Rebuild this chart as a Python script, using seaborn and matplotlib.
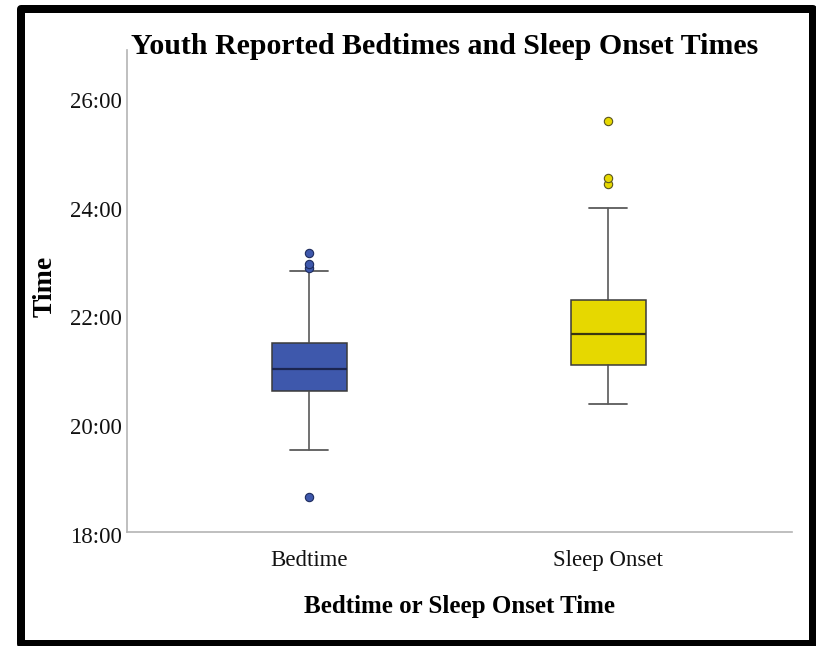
import matplotlib
matplotlib.use("Agg")
import matplotlib.pyplot as plt
import matplotlib.transforms as mtransforms
from matplotlib.patches import Rectangle
from matplotlib.ticker import FixedLocator, FuncFormatter
import seaborn as sns

# Summary statistics of the reported clock times (hours, 24+ = after midnight)
categories = ["Bedtime", "Sleep Onset"]
whisker_low = [19.50, 20.35]
q1 = [20.60, 21.07]
median = [21.00, 21.64]
q3 = [21.47, 22.26]
whisker_high = [22.80, 23.95]
outliers = [[18.64, 22.86, 22.92, 23.13], [24.40, 24.50, 25.56]]
y_ticks = [18, 20, 22, 24, 26]

box_colors = ["#3E58AC", "#E6D800"]
median_colors = ["#1B2550", "#3A3610"]
flier_edges = ["#1E2C5E", "#5A5520"]

sns.set_theme(style="white")
plt.rcParams["font.family"] = ["Liberation Serif", "DejaVu Serif"]

W, H = 816, 646
fig = plt.figure(figsize=(W / 100, H / 100), dpi=100)
ax = fig.add_axes([127 / W, 1 - 532 / H, 665 / W, 482 / H])

stats = []
for i, name in enumerate(categories):
    stats.append({
        "label": name,
        "whislo": whisker_low[i],
        "q1": q1[i],
        "med": median[i],
        "q3": q3[i],
        "whishi": whisker_high[i],
        "fliers": outliers[i],
    })

art = ax.bxp(
    stats,
    positions=[0, 1],
    widths=0.253,
    patch_artist=True,
    showfliers=True,
    boxprops=dict(edgecolor="#3a3a3a", linewidth=1.1),
    whiskerprops=dict(color="#4a4a4a", linewidth=1.1),
    capprops=dict(color="#5a5a5a", linewidth=1.3),
    medianprops=dict(linewidth=1.6),
    flierprops=dict(marker="o", markersize=6.0, markeredgewidth=0.8, linestyle="none"),
)
for i in range(len(categories)):
    art["boxes"][i].set_facecolor(box_colors[i])
    art["medians"][i].set_color(median_colors[i])
    art["fliers"][i].set_markerfacecolor(box_colors[i])
    art["fliers"][i].set_markeredgecolor(flier_edges[i])

ax.set_xlim(-0.610, 1.614)
ax.set_ylim(18, 26.86)
ax.yaxis.set_major_locator(FixedLocator(y_ticks))
ax.yaxis.set_major_formatter(FuncFormatter(lambda v, p: f"{int(round(v))}:00"))
ax.set_xticks([0, 1])
ax.set_xticklabels(categories)

for side in ["top", "right"]:
    ax.spines[side].set_visible(False)
for side in ["left", "bottom"]:
    ax.spines[side].set_color("#b4b4b4")
    ax.spines[side].set_linewidth(1.2)

ax.tick_params(axis="y", length=0, pad=3.5, labelsize=16.5, labelcolor="#111111")
ax.tick_params(axis="x", length=0, pad=13, labelsize=16.5, labelcolor="#111111")
ax.grid(False)

# y tick labels sit slightly below their gridline positions
shift = mtransforms.ScaledTranslation(0, -3 / 100, fig.dpi_scale_trans)
for lab in ax.get_yticklabels():
    lab.set_transform(lab.get_transform() + shift)

ax.set_xlabel("Bedtime or Sleep Onset Time", fontsize=18, fontweight="bold", color="black")
ax.xaxis.set_label_coords(0.5, (532 - 607) / 482)
ax.xaxis.label.set_va("center")
ax.set_ylabel("Time", fontsize=20, fontweight="bold", color="black")
ax.yaxis.set_label_coords((45 - 127) / 665, (532 - 286) / 482)
ax.yaxis.label.set_va("center")

fig.text(445 / W, 1 - 46 / H, "Youth Reported Bedtimes and Sleep Onset Times",
         ha="center", va="center", fontsize=21.5, fontweight="bold", color="black")

# Heavy black frame around the whole figure
frame = Rectangle((21 / W, 1 - 644 / H), (813 - 21) / W, (644 - 9) / H,
                  transform=fig.transFigure, fill=False, edgecolor="black",
                  linewidth=8 * 0.72, joinstyle="round", clip_on=False)
fig.patches.append(frame)

fig.savefig("out.png", dpi=100)
